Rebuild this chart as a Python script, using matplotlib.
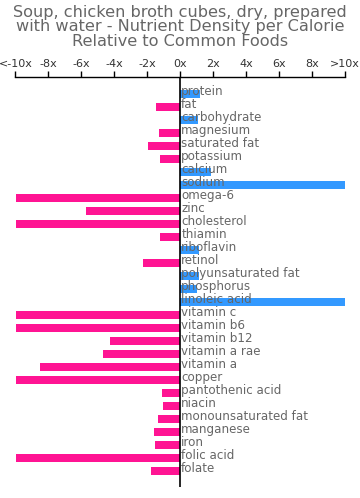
import matplotlib
matplotlib.use("Agg")
import matplotlib.pyplot as plt

# Data
nutrients = ["protein", "fat", "carbohydrate", "magnesium", "saturated fat",
             "potassium", "calcium", "sodium", "omega-6", "zinc", "cholesterol",
             "thiamin", "riboflavin", "retinol", "polyunsaturated fat",
             "phosphorus", "linoleic acid", "vitamin c", "vitamin b6",
             "vitamin b12", "vitamin a rae", "vitamin a", "copper",
             "pantothenic acid", "niacin", "monounsaturated fat", "manganese",
             "iron", "folic acid", "folate"]
values = [1.2, -1.45, 1.05, -1.3, -1.95, -1.25, 1.85, 10, -10, -5.7, -10,
          -1.25, 1.15, -2.25, 1.15, 1.0, 10, -10, -10, -4.25, -4.7, -8.5, -10,
          -1.1, -1.05, -1.35, -1.6, -1.55, -10, -1.8]
tick_vals = [-10, -8, -6, -4, -2, 0, 2, 4, 6, 8, 10]
tick_labels = ["<-10x", "-8x", "-6x", "-4x", "-2x", "0x", "2x", "4x", "6x", "8x", ">10x"]

W, H = 360, 498
fig = plt.figure(figsize=(W / 100, H / 100), dpi=100)
fig.patch.set_facecolor("white")

left, right = 15.5 / W, 345.3 / W
top, bottom = 1 - 77 / H, 1 - 486.7 / H
ax = fig.add_axes([left, bottom, right - left, top - bottom])

pos = list(range(len(nutrients)))
colors = ["#ff1493" if v < 0 else "#3399ff" for v in values]
ax.barh(pos, values, height=0.6, color=colors, zorder=1)

for i, name in enumerate(nutrients):
    ax.text(0.05, i - 0.15, name, ha="left", va="center", fontsize=8.6,
            color="#666666", zorder=3)

ax.axvline(0, color="black", lw=1.2, zorder=2)

ax.set_xlim(-10, 10)
ax.set_ylim(30.23, -1.28)
ax.xaxis.tick_top()
ax.set_xticks(tick_vals)
ax.set_xticklabels(tick_labels, fontsize=8, color="#333333")
ax.tick_params(axis="x", direction="out", length=4, width=1, pad=2)
ax.set_yticks([])
for s in ["left", "right", "bottom"]:
    ax.spines[s].set_visible(False)
ax.spines["top"].set_linewidth(1)

title_lines = ["Soup, chicken broth cubes, dry, prepared",
               "with water - Nutrient Density per Calorie",
               "Relative to Common Foods"]
for k, line in enumerate(title_lines):
    fig.text(0.5, 1 - (12 + 15 * k) / H, line, ha="center", va="center",
             fontsize=11.6, color="#666666")

fig.savefig("out.png", dpi=100)
